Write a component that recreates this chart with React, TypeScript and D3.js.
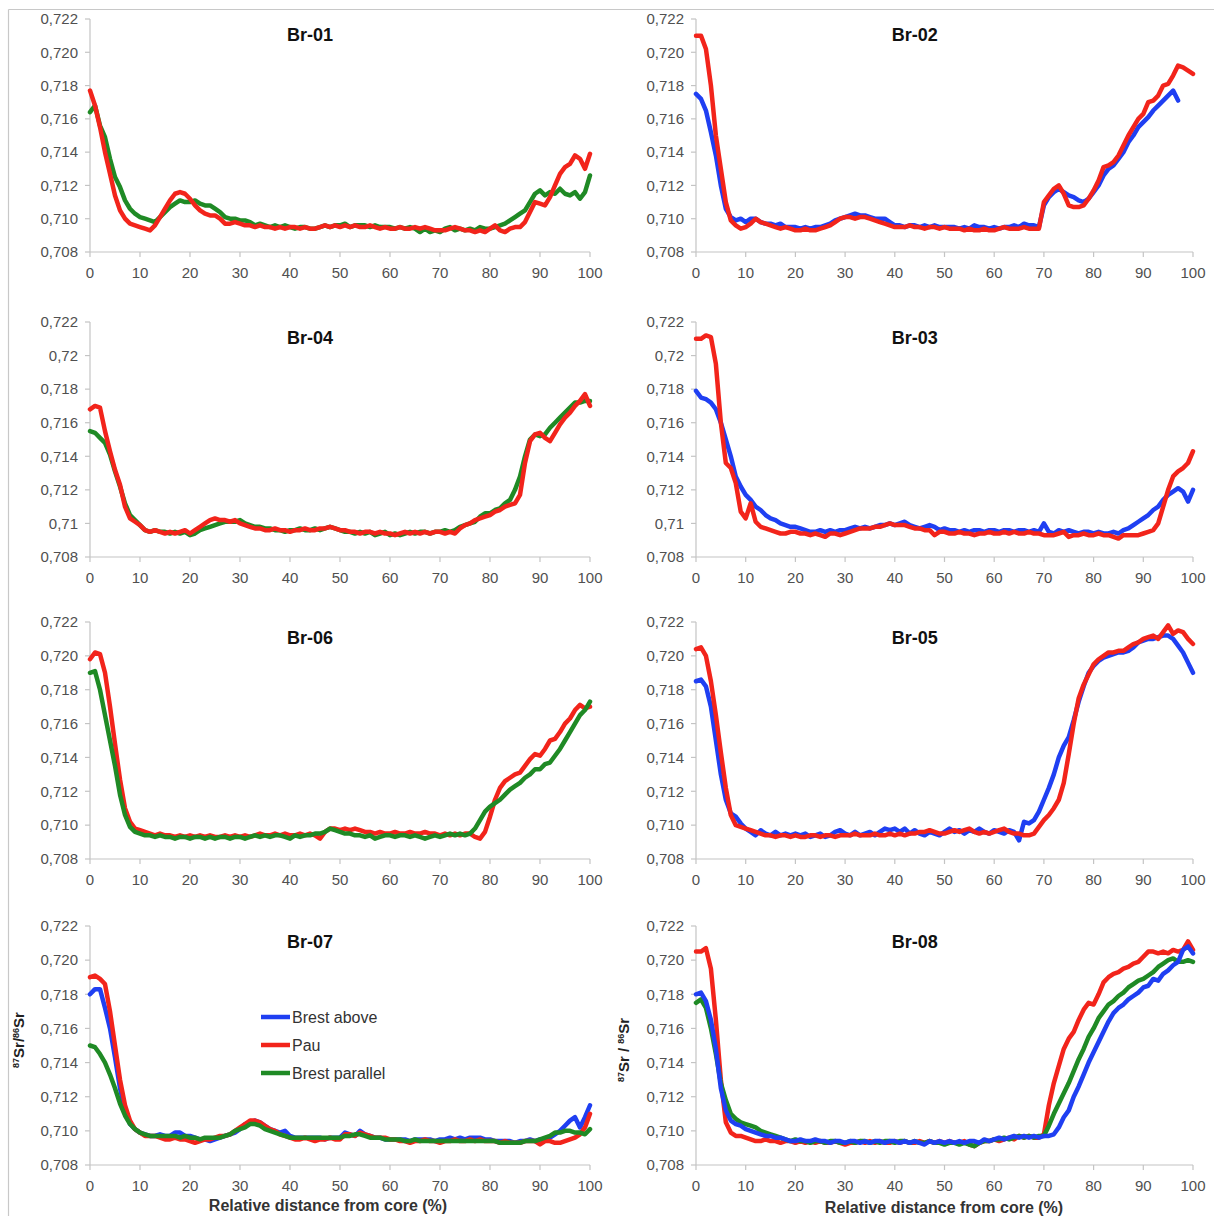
import React from "react";
import * as d3 from "d3";

// ---------- data (x = 0..100 % relative distance from core, step 1) ----------
const xTicks = [0, 10, 20, 30, 40, 50, 60, 70, 80, 90, 100];
const yTicks = [0.708, 0.71, 0.712, 0.714, 0.716, 0.718, 0.72, 0.722];
const yLabelsFixed = ["0,708", "0,710", "0,712", "0,714", "0,716", "0,718", "0,720", "0,722"];
const yLabelsTrim = ["0,708", "0,71", "0,712", "0,714", "0,716", "0,718", "0,72", "0,722"];
const seriesNames = ["Brest above", "Pau", "Brest parallel"];
const panelTitles = ["Br-01", "Br-02", "Br-04", "Br-03", "Br-06", "Br-05", "Br-07", "Br-08"];

const br01Pau = [.7177,.7168,.7155,.7140,.7127,.7114,.7105,.7100,.7097,.7096,
.7095,.7094,.7093,.7096,.7101,.7106,.7111,.7115,.7116,.7115,
.7112,.7108,.7105,.7103,.7102,.7102,.7100,.7097,.7097,.7098,
.7097,.7096,.7096,.7095,.7096,.7095,.7095,.7094,.7095,.7094,
.7095,.7095,.7094,.7095,.7094,.7094,.7095,.7096,.7095,.7096,
.7095,.7096,.7095,.7096,.7095,.7095,.7096,.7095,.7094,.7095,
.7094,.7094,.7095,.7094,.7094,.7095,.7094,.7095,.7094,.7093,
.7093,.7093,.7094,.7095,.7094,.7093,.7093,.7092,.7093,.7092,
.7094,.7096,.7093,.7092,.7094,.7095,.7095,.7098,.7104,.7110,
.7109,.7108,.7113,.7120,.7127,.7131,.7133,.7138,.7136,.7130,.7139];
const br01Parallel = [.7164,.7168,.7156,.7149,.7136,.7125,.7119,.7111,.7106,.7103,
.7101,.7100,.7099,.7098,.7101,.7104,.7107,.7109,.7111,.7110,
.7110,.7111,.7109,.7108,.7108,.7106,.7104,.7101,.7100,.7100,
.7099,.7099,.7098,.7096,.7097,.7096,.7095,.7096,.7095,.7096,
.7095,.7094,.7095,.7095,.7094,.7094,.7095,.7096,.7095,.7096,
.7096,.7097,.7095,.7096,.7096,.7096,.7095,.7096,.7095,.7095,
.7095,.7094,.7095,.7094,.7095,.7094,.7092,.7094,.7092,.7093,
.7092,.7094,.7095,.7093,.7094,.7093,.7094,.7093,.7095,.7094,
.7094,.7095,.7096,.7097,.7099,.7101,.7103,.7105,.7110,.7115,
.7117,.7114,.7116,.7115,.7118,.7115,.7114,.7116,.7112,.7116,.7126];

const br02Pau = [.7210,.7210,.7202,.7180,.7150,.7130,.7110,.7099,.7096,.7094,
.7095,.7097,.7100,.7098,.7097,.7096,.7095,.7094,.7095,.7094,
.7093,.7093,.7094,.7093,.7093,.7094,.7095,.7096,.7098,.7100,
.7101,.7101,.7100,.7101,.7101,.7100,.7099,.7098,.7097,.7096,
.7095,.7095,.7095,.7096,.7095,.7095,.7094,.7095,.7095,.7094,
.7095,.7094,.7094,.7094,.7093,.7094,.7093,.7093,.7094,.7093,
.7093,.7094,.7095,.7094,.7094,.7094,.7095,.7094,.7094,.7094,
.7110,.7114,.7118,.7120,.7115,.7108,.7107,.7107,.7108,.7112,
.7117,.7123,.7131,.7132,.7134,.7138,.7144,.7150,.7155,.7160,
.7163,.7170,.7171,.7174,.7180,.7181,.7186,.7192,.7191,.7189,.7187];
const br02Above = [.7175,.7172,.7165,.7152,.7138,.7120,.7106,.7101,.7099,.7100,
.7098,.7100,.7100,.7098,.7097,.7097,.7096,.7097,.7095,.7095,
.7095,.7094,.7095,.7094,.7095,.7095,.7096,.7097,.7099,.7100,
.7101,.7102,.7103,.7102,.7102,.7101,.7100,.7100,.7100,.7098,
.7096,.7096,.7095,.7096,.7096,.7095,.7096,.7095,.7096,.7095,
.7095,.7095,.7095,.7094,.7095,.7094,.7096,.7095,.7095,.7094,
.7095,.7094,.7095,.7095,.7096,.7095,.7097,.7096,.7096,.7095,
.7108,.7113,.7116,.7118,.7116,.7114,.7113,.7111,.7110,.7112,
.7116,.7120,.7126,.7130,.7132,.7136,.7140,.7146,.7150,.7155,
.7158,.7161,.7165,.7168,.7171,.7174,.7177,.7171];

const br04Pau = [.7168,.7170,.7169,.7155,.7143,.7132,.7123,.7110,.7103,.7101,
.7099,.7096,.7095,.7096,.7095,.7094,.7095,.7094,.7095,.7096,
.7094,.7096,.7098,.7100,.7102,.7103,.7102,.7102,.7101,.7102,
.7100,.7099,.7098,.7097,.7097,.7096,.7096,.7097,.7096,.7096,
.7095,.7096,.7096,.7097,.7096,.7096,.7097,.7097,.7098,.7097,
.7096,.7096,.7095,.7095,.7094,.7095,.7095,.7094,.7095,.7094,
.7094,.7093,.7094,.7095,.7094,.7095,.7094,.7095,.7094,.7095,
.7095,.7094,.7095,.7094,.7097,.7099,.7100,.7102,.7103,.7104,
.7105,.7107,.7108,.7110,.7111,.7112,.7117,.7136,.7149,.7153,
.7154,.7151,.7149,.7154,.7159,.7163,.7166,.7170,.7173,.7177,.7170];
const br04Parallel = [.7155,.7154,.7151,.7148,.7141,.7131,.7122,.7112,.7105,.7102,
.7099,.7096,.7095,.7096,.7095,.7095,.7094,.7095,.7094,.7095,
.7093,.7094,.7096,.7097,.7098,.7099,.7100,.7101,.7101,.7101,
.7102,.7100,.7099,.7098,.7098,.7097,.7097,.7096,.7096,.7095,
.7096,.7096,.7097,.7096,.7096,.7097,.7096,.7097,.7098,.7097,
.7096,.7095,.7095,.7094,.7095,.7094,.7095,.7093,.7094,.7095,
.7093,.7094,.7093,.7094,.7095,.7094,.7095,.7095,.7094,.7095,
.7095,.7096,.7095,.7096,.7098,.7099,.7100,.7101,.7104,.7106,
.7106,.7108,.7109,.7112,.7114,.7120,.7128,.7140,.7150,.7153,
.7152,.7153,.7157,.7160,.7163,.7166,.7169,.7172,.7172,.7173,.7173];

const br03Pau = [.7210,.7210,.7212,.7211,.7195,.7160,.7136,.7133,.7124,.7107,
.7103,.7112,.7101,.7098,.7097,.7096,.7095,.7094,.7094,.7095,
.7095,.7094,.7094,.7093,.7094,.7093,.7092,.7094,.7094,.7093,
.7094,.7095,.7096,.7097,.7097,.7097,.7098,.7098,.7099,.7100,
.7099,.7099,.7099,.7098,.7097,.7097,.7096,.7096,.7093,.7095,
.7095,.7094,.7094,.7095,.7094,.7094,.7093,.7094,.7094,.7095,
.7094,.7094,.7095,.7094,.7095,.7094,.7094,.7095,.7094,.7094,
.7093,.7093,.7093,.7094,.7095,.7092,.7093,.7093,.7094,.7093,
.7093,.7094,.7093,.7093,.7092,.7091,.7093,.7093,.7093,.7093,
.7094,.7095,.7096,.7100,.7110,.7120,.7128,.7131,.7133,.7136,.7143];
const br03Above = [.7179,.7175,.7174,.7172,.7168,.7160,.7150,.7140,.7128,.7122,
.7117,.7114,.7110,.7108,.7105,.7103,.7102,.7100,.7099,.7098,
.7098,.7097,.7096,.7095,.7095,.7096,.7095,.7096,.7095,.7096,
.7096,.7097,.7098,.7097,.7098,.7097,.7098,.7099,.7099,.7100,
.7099,.7100,.7101,.7099,.7098,.7097,.7098,.7099,.7098,.7096,
.7097,.7096,.7096,.7095,.7096,.7095,.7096,.7096,.7095,.7096,
.7096,.7095,.7096,.7096,.7095,.7096,.7096,.7095,.7096,.7095,
.7100,.7095,.7094,.7096,.7095,.7096,.7095,.7094,.7095,.7095,
.7094,.7095,.7094,.7094,.7095,.7094,.7096,.7097,.7099,.7101,
.7103,.7105,.7108,.7110,.7114,.7117,.7119,.7121,.7119,.7113,.7120];

const br06Pau = [.7198,.7202,.7201,.7190,.7170,.7148,.7127,.7110,.7102,.7098,
.7097,.7096,.7095,.7094,.7095,.7094,.7094,.7093,.7094,.7093,
.7094,.7093,.7094,.7093,.7094,.7093,.7093,.7094,.7093,.7094,
.7093,.7094,.7093,.7094,.7095,.7094,.7094,.7095,.7094,.7095,
.7094,.7094,.7095,.7094,.7095,.7094,.7092,.7096,.7098,.7098,
.7097,.7098,.7097,.7098,.7097,.7096,.7096,.7095,.7096,.7095,
.7095,.7096,.7095,.7095,.7096,.7095,.7095,.7096,.7095,.7095,
.7094,.7095,.7094,.7095,.7094,.7095,.7095,.7093,.7092,.7096,
.7105,.7115,.7122,.7126,.7128,.7130,.7131,.7135,.7139,.7142,
.7141,.7145,.7150,.7151,.7155,.7160,.7163,.7168,.7171,.7169,.7170];
const br06Parallel = [.7190,.7191,.7180,.7165,.7150,.7135,.7118,.7106,.7099,.7096,
.7095,.7094,.7094,.7093,.7094,.7093,.7093,.7092,.7093,.7093,
.7092,.7093,.7093,.7092,.7093,.7092,.7093,.7093,.7092,.7093,
.7093,.7092,.7093,.7094,.7093,.7094,.7093,.7094,.7094,.7093,
.7092,.7094,.7093,.7094,.7094,.7095,.7095,.7096,.7098,.7097,
.7096,.7095,.7095,.7094,.7094,.7093,.7094,.7092,.7093,.7094,
.7094,.7093,.7094,.7094,.7093,.7094,.7093,.7092,.7093,.7094,
.7093,.7094,.7095,.7094,.7095,.7094,.7095,.7098,.7103,.7108,
.7111,.7113,.7115,.7118,.7121,.7123,.7125,.7128,.7130,.7133,
.7133,.7136,.7137,.7141,.7145,.7150,.7155,.7160,.7165,.7168,.7173];

const br05Pau = [.7204,.7205,.7200,.7185,.7165,.7143,.7122,.7106,.7100,.7099,
.7098,.7097,.7096,.7095,.7094,.7094,.7093,.7094,.7094,.7093,
.7094,.7093,.7093,.7094,.7094,.7093,.7094,.7094,.7093,.7094,
.7094,.7094,.7095,.7094,.7094,.7094,.7095,.7094,.7094,.7095,
.7094,.7095,.7094,.7095,.7095,.7096,.7096,.7097,.7096,.7095,
.7095,.7096,.7097,.7096,.7097,.7098,.7096,.7095,.7096,.7095,
.7096,.7097,.7098,.7096,.7095,.7095,.7094,.7094,.7095,.7099,
.7103,.7106,.7110,.7115,.7125,.7142,.7160,.7175,.7183,.7189,
.7195,.7198,.7200,.7202,.7202,.7203,.7203,.7205,.7207,.7208,
.7210,.7211,.7212,.7210,.7214,.7218,.7213,.7215,.7214,.7210,.7207];
const br05Above = [.7185,.7186,.7182,.7170,.7150,.7130,.7115,.7107,.7105,.7101,
.7098,.7096,.7094,.7097,.7095,.7094,.7096,.7094,.7095,.7094,
.7095,.7094,.7095,.7093,.7094,.7095,.7093,.7094,.7096,.7097,
.7095,.7094,.7096,.7094,.7095,.7096,.7094,.7096,.7098,.7097,
.7098,.7096,.7098,.7095,.7097,.7095,.7094,.7096,.7095,.7094,
.7096,.7098,.7096,.7097,.7095,.7097,.7096,.7098,.7096,.7095,
.7097,.7096,.7095,.7097,.7096,.7091,.7102,.7101,.7103,.7108,
.7115,.7122,.7130,.7140,.7147,.7152,.7162,.7173,.7182,.7190,
.7194,.7197,.7199,.7200,.7201,.7202,.7202,.7203,.7205,.7208,
.7209,.7210,.7210,.7211,.7212,.7212,.7210,.7206,.7202,.7196,.7190];

const br07Pau = [.7190,.7191,.7189,.7186,.7170,.7150,.7130,.7115,.7106,.7101,
.7099,.7097,.7097,.7097,.7096,.7095,.7095,.7096,.7095,.7095,
.7094,.7093,.7094,.7095,.7095,.7096,.7097,.7097,.7098,.7100,
.7102,.7104,.7106,.7106,.7105,.7103,.7101,.7100,.7098,.7097,
.7096,.7095,.7095,.7096,.7095,.7094,.7095,.7095,.7096,.7095,
.7095,.7098,.7098,.7097,.7099,.7098,.7097,.7096,.7096,.7096,
.7095,.7095,.7094,.7094,.7093,.7094,.7094,.7095,.7094,.7094,
.7093,.7094,.7094,.7095,.7094,.7094,.7095,.7094,.7095,.7094,
.7094,.7094,.7093,.7094,.7093,.7093,.7093,.7094,.7094,.7094,
.7092,.7094,.7094,.7093,.7093,.7094,.7095,.7096,.7098,.7102,.7110];
const br07Above = [.7180,.7183,.7183,.7172,.7160,.7143,.7125,.7112,.7104,.7101,
.7099,.7098,.7097,.7097,.7098,.7097,.7097,.7099,.7099,.7097,
.7097,.7096,.7095,.7095,.7094,.7095,.7096,.7097,.7098,.7099,
.7101,.7104,.7105,.7106,.7105,.7103,.7101,.7100,.7099,.7100,
.7097,.7096,.7096,.7096,.7096,.7096,.7096,.7095,.7096,.7096,
.7096,.7099,.7098,.7097,.7100,.7098,.7097,.7096,.7096,.7095,
.7095,.7095,.7095,.7095,.7094,.7095,.7095,.7095,.7095,.7094,
.7095,.7095,.7096,.7095,.7096,.7095,.7096,.7096,.7096,.7095,
.7095,.7094,.7094,.7094,.7094,.7093,.7094,.7094,.7095,.7094,
.7095,.7095,.7096,.7098,.7100,.7103,.7106,.7108,.7102,.7108,.7115];
const br07Parallel = [.7150,.7149,.7145,.7140,.7133,.7125,.7116,.7109,.7104,.7101,
.7099,.7098,.7097,.7097,.7097,.7097,.7097,.7097,.7096,.7097,
.7096,.7096,.7095,.7096,.7096,.7096,.7096,.7097,.7098,.7100,
.7101,.7102,.7104,.7104,.7103,.7101,.7100,.7099,.7098,.7097,
.7096,.7096,.7096,.7096,.7096,.7096,.7096,.7096,.7096,.7096,
.7096,.7097,.7097,.7098,.7098,.7097,.7096,.7096,.7096,.7095,
.7095,.7095,.7095,.7094,.7094,.7095,.7094,.7094,.7094,.7094,
.7094,.7094,.7094,.7094,.7094,.7094,.7094,.7094,.7094,.7094,
.7094,.7094,.7093,.7093,.7093,.7093,.7093,.7094,.7094,.7094,
.7095,.7096,.7097,.7099,.7099,.7100,.7100,.7099,.7099,.7098,.7101];

const br08Pau = [.7205,.7205,.7207,.7195,.7165,.7130,.7105,.7099,.7097,.7097,
.7096,.7095,.7094,.7094,.7095,.7094,.7094,.7093,.7094,.7094,
.7093,.7094,.7093,.7094,.7093,.7094,.7093,.7093,.7094,.7093,
.7092,.7093,.7093,.7094,.7093,.7094,.7093,.7094,.7093,.7093,
.7094,.7093,.7094,.7093,.7093,.7094,.7093,.7094,.7093,.7094,
.7093,.7094,.7093,.7093,.7094,.7092,.7091,.7093,.7094,.7094,
.7095,.7094,.7095,.7096,.7095,.7097,.7096,.7097,.7096,.7096,
.7098,.7115,.7128,.7138,.7148,.7154,.7158,.7165,.7171,.7175,
.7174,.7180,.7187,.7190,.7192,.7193,.7195,.7196,.7198,.7199,
.7202,.7205,.7205,.7204,.7205,.7204,.7206,.7205,.7206,.7211,.7206];
const br08Parallel = [.7175,.7177,.7172,.7160,.7145,.7128,.7118,.7110,.7107,.7105,
.7104,.7103,.7102,.7100,.7099,.7098,.7097,.7096,.7095,.7094,
.7095,.7094,.7094,.7093,.7094,.7094,.7093,.7094,.7094,.7093,
.7093,.7094,.7093,.7094,.7094,.7093,.7094,.7093,.7094,.7094,
.7093,.7094,.7094,.7093,.7094,.7093,.7093,.7094,.7093,.7093,
.7092,.7093,.7093,.7092,.7093,.7092,.7091,.7093,.7094,.7094,
.7095,.7095,.7096,.7095,.7096,.7097,.7096,.7097,.7096,.7097,
.7097,.7103,.7110,.7116,.7122,.7128,.7135,.7142,.7148,.7155,
.7160,.7166,.7170,.7174,.7176,.7179,.7181,.7184,.7186,.7188,
.7189,.7191,.7193,.7196,.7198,.7200,.7201,.7199,.7199,.7200,.7199];
const br08Above = [.7180,.7181,.7176,.7165,.7148,.7125,.7112,.7106,.7104,.7103,
.7101,.7100,.7099,.7098,.7097,.7097,.7096,.7096,.7095,.7094,
.7094,.7095,.7094,.7094,.7095,.7094,.7094,.7093,.7094,.7094,
.7093,.7094,.7094,.7093,.7094,.7093,.7094,.7094,.7093,.7094,
.7094,.7093,.7094,.7093,.7094,.7093,.7092,.7094,.7093,.7094,
.7093,.7094,.7093,.7094,.7093,.7094,.7094,.7093,.7095,.7094,
.7095,.7096,.7095,.7096,.7097,.7096,.7097,.7096,.7097,.7096,
.7097,.7097,.7098,.7102,.7108,.7112,.7120,.7126,.7133,.7140,
.7146,.7152,.7158,.7164,.7169,.7172,.7174,.7177,.7179,.7181,
.7184,.7185,.7189,.7188,.7192,.7194,.7197,.7199,.7206,.7208,.7204];

// ---------- styling / layout ----------
const COLORS: Record<string, string> = {
  "Brest above": "#1f3ff2",
  "Pau": "#f2241b",
  "Brest parallel": "#1f8a25",
};
const W = 1214;
const H = 1216;
const COLS = [
  { x0: 90, x1: 590 },
  { x0: 696, x1: 1193 },
];
const ROWS = [
  { y0: 19, y1: 252 },
  { y0: 322, y1: 557 },
  { y0: 622, y1: 859 },
  { y0: 926, y1: 1165 },
];
const FONT = "'Liberation Sans', Arial, Helvetica, sans-serif";

type Series = { name: string; values: number[] };
type Panel = { title: string; col: number; row: number; labels: string[]; series: Series[] };

const panels: Panel[] = [
  { title: panelTitles[0], col: 0, row: 0, labels: yLabelsFixed,
    series: [{ name: seriesNames[2], values: br01Parallel }, { name: seriesNames[1], values: br01Pau }] },
  { title: panelTitles[1], col: 1, row: 0, labels: yLabelsFixed,
    series: [{ name: seriesNames[0], values: br02Above }, { name: seriesNames[1], values: br02Pau }] },
  { title: panelTitles[2], col: 0, row: 1, labels: yLabelsTrim,
    series: [{ name: seriesNames[2], values: br04Parallel }, { name: seriesNames[1], values: br04Pau }] },
  { title: panelTitles[3], col: 1, row: 1, labels: yLabelsTrim,
    series: [{ name: seriesNames[0], values: br03Above }, { name: seriesNames[1], values: br03Pau }] },
  { title: panelTitles[4], col: 0, row: 2, labels: yLabelsFixed,
    series: [{ name: seriesNames[1], values: br06Pau }, { name: seriesNames[2], values: br06Parallel }] },
  { title: panelTitles[5], col: 1, row: 2, labels: yLabelsFixed,
    series: [{ name: seriesNames[0], values: br05Above }, { name: seriesNames[1], values: br05Pau }] },
  { title: panelTitles[6], col: 0, row: 3, labels: yLabelsFixed,
    series: [{ name: seriesNames[0], values: br07Above }, { name: seriesNames[1], values: br07Pau }, { name: seriesNames[2], values: br07Parallel }] },
  { title: panelTitles[7], col: 1, row: 3, labels: yLabelsFixed,
    series: [{ name: seriesNames[1], values: br08Pau }, { name: seriesNames[2], values: br08Parallel }, { name: seriesNames[0], values: br08Above }] },
];

function PanelView({ p }: { p: Panel }) {
  const c = COLS[p.col];
  const r = ROWS[p.row];
  const x = d3.scaleLinear().domain([0, 100]).range([c.x0, c.x1]);
  const y = d3.scaleLinear().domain([0.708, 0.722]).range([r.y1, r.y0]);
  const line = d3
    .line<number>()
    .x((_, i) => x(i))
    .y((v) => y(v));
  const axisColor = "#c4c4c4";
  const tickText = "#505050";
  return (
    <g>
      <line x1={c.x0} x2={c.x0} y1={r.y0} y2={r.y1} stroke={axisColor} strokeWidth={1.2} />
      <line x1={c.x0} x2={c.x1} y1={r.y1} y2={r.y1} stroke={axisColor} strokeWidth={1.2} />
      {yTicks.map((t, i) => (
        <g key={"y" + i}>
          <line x1={c.x0 - 5} x2={c.x0} y1={y(t)} y2={y(t)} stroke={axisColor} strokeWidth={1.2} />
          <text x={c.x0 - 12} y={y(t)} dy="0.35em" textAnchor="end" fontSize={15} fill={tickText} fontFamily={FONT}>
            {p.labels[i]}
          </text>
        </g>
      ))}
      {xTicks.map((t) => (
        <g key={"x" + t}>
          <line x1={x(t)} x2={x(t)} y1={r.y1} y2={r.y1 + 5} stroke={axisColor} strokeWidth={1.2} />
          <text x={x(t)} y={r.y1 + 21} dy="0.35em" textAnchor="middle" fontSize={15} fill={tickText} fontFamily={FONT}>
            {t}
          </text>
        </g>
      ))}
      {p.series.map((s) => (
        <path
          key={s.name}
          d={line(s.values) || ""}
          fill="none"
          stroke={COLORS[s.name]}
          strokeWidth={4.5}
          strokeLinejoin="round"
          strokeLinecap="round"
        />
      ))}
      <text
        x={c.x0 + (c.x1 - c.x0) * 0.44}
        y={r.y0 + 16}
        dy="0.35em"
        textAnchor="middle"
        fontSize={18}
        fontWeight="bold"
        fill="#111"
        fontFamily={FONT}
      >
        {p.title}
      </text>
    </g>
  );
}

function YTitle({ x, y, sep }: { x: number; y: number; sep: string }) {
  return (
    <text
      transform={`translate(${x},${y}) rotate(-90)`}
      textAnchor="middle"
      fontSize={15}
      fontWeight="bold"
      fill="#222"
      fontFamily={FONT}
    >
      <tspan fontSize={9} baselineShift="super">87</tspan>
      <tspan>{"Sr" + sep}</tspan>
      <tspan fontSize={9} baselineShift="super">86</tspan>
      <tspan>Sr</tspan>
    </text>
  );
}

export default function App() {
  const legendX = 261;
  const legendY = [1017, 1045, 1073];
  return (
    <svg
      width={W}
      height={H}
      style={{ position: "absolute", left: 0, top: 0, background: "#fff" }}
    >
      <rect x={0} y={0} width={W} height={H} fill="#fff" />
      <line x1={8.5} x2={W} y1={9.5} y2={9.5} stroke="#c8c8c8" strokeWidth={1.2} />
      <line x1={8.5} x2={8.5} y1={9.5} y2={H} stroke="#c8c8c8" strokeWidth={1.2} />
      {panels.map((p) => (
        <PanelView key={p.title} p={p} />
      ))}
      {seriesNames.map((n, i) => (
        <g key={n}>
          <line x1={legendX} x2={legendX + 29} y1={legendY[i]} y2={legendY[i]} stroke={COLORS[n]} strokeWidth={4.5} />
          <text x={legendX + 31} y={legendY[i]} dy="0.35em" fontSize={16} fill="#333" fontFamily={FONT}>
            {n}
          </text>
        </g>
      ))}
      <YTitle x={24} y={1040} sep="/" />
      <YTitle x={629} y={1050} sep=" / " />
      <text x={328} y={1205} dy="0.35em" textAnchor="middle" fontSize={16} fontWeight="bold" fill="#333" fontFamily={FONT}>
        Relative distance from core (%)
      </text>
      <text x={944} y={1207} dy="0.35em" textAnchor="middle" fontSize={16} fontWeight="bold" fill="#333" fontFamily={FONT}>
        Relative distance from core (%)
      </text>
    </svg>
  );
}
